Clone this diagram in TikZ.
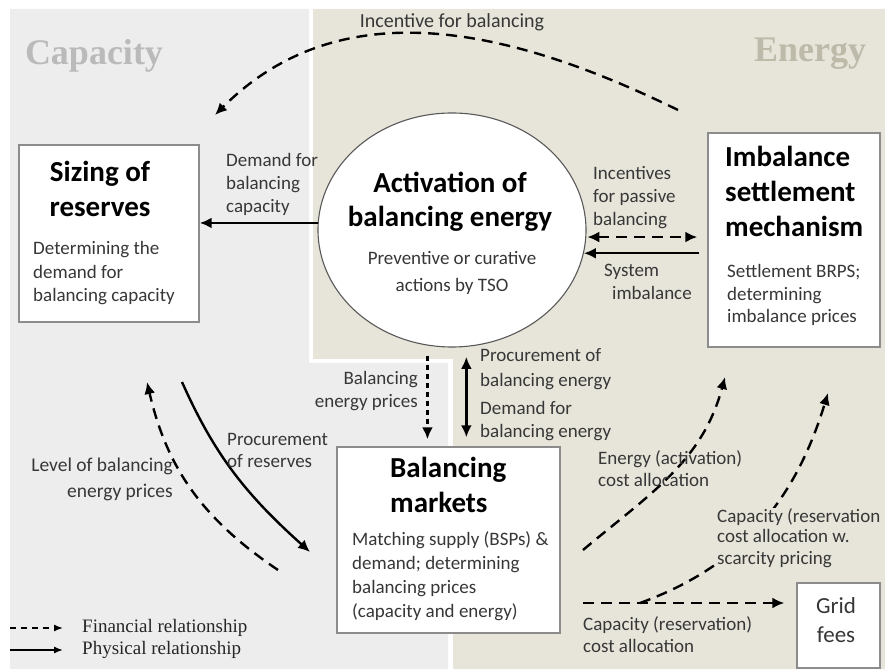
\documentclass[tikz,border=0pt]{standalone}
\usepackage{fontspec}
\setmainfont{Carlito}
\newfontfamily\headfont{Liberation Serif}
\usetikzlibrary{positioning,arrows.meta,shapes.geometric}

\definecolor{capbg}{RGB}{237,237,237}
\definecolor{enbg}{RGB}{231,229,218}
\definecolor{caphead}{RGB}{186,186,186}
\definecolor{enhead}{RGB}{190,186,170}
\definecolor{boxline}{RGB}{140,140,140}
\definecolor{lbltext}{RGB}{55,55,55}

\tikzset{
  block/.style={draw=boxline, line width=1.4pt, fill=white, inner sep=0pt},
  heading/.style={font=\bfseries\fontsize{29}{35}\selectfont, inner sep=0pt},
  detail/.style={font=\fontsize{19}{23.5}\selectfont, text=lbltext, inner sep=0pt},
  lbl/.style={font=\fontsize{19}{23}\selectfont, text=lbltext, inner sep=0pt},
  side/.style={font=\headfont\bfseries\fontsize{36}{40}\selectfont, inner sep=0pt, anchor=base},
  legend/.style={font=\headfont\fontsize{19}{22}\selectfont, text=black!85, inner sep=0pt},
  financial/.style={line width=2.4pt, dash pattern=on 11pt off 7pt},
  physical/.style={line width=2.4pt},
}

\begin{document}
\begin{tikzpicture}[x=1pt,y=1pt,>={Latex[length=12pt,width=11pt]}]
\useasboundingbox (0,0) rectangle (885,669);

% the two halves
\fill[capbg] (10,0) -- (10,660) -- (309,660) -- (309,306) -- (448,306) -- (448,0) -- cycle;
\fill[enbg] (313,660) -- (885,660) -- (885,0) -- (453,0) -- (453,310) -- (313,310) -- cycle;
\node[side, text=caphead] (h_cap) at (94,604) {Capacity};
\node[side, text=enhead] (h_en) at (810,607) {Energy};

% blocks (base anchors sit on the last line)
\node[block, minimum width=180pt, minimum height=177pt] (sizing) at (109,435.5) {};
\node[block, ellipse, draw=black!65, line width=1.1pt, minimum width=268pt, minimum height=234pt] (act) at (452,439) {};
\node[block, minimum width=172pt, minimum height=214pt] (imb) at (794,429) {};
\node[block, minimum width=223pt, minimum height=186pt] (mkt) at (448.5,129) {};
\node[block, minimum width=83pt, minimum height=85pt] (grid) at (838.5,43.5) {};

\node[heading, align=center, anchor=base] (sizing_t) at (100,452) {Sizing of\\reserves};
\node[detail, align=left, anchor=base west] (sizing_d) at (33,367) {Determining the\\demand for\\balancing capacity};
\node[heading, align=center, anchor=base, font=\bfseries\fontsize{29}{34}\selectfont] (act_t) at (450,442) {Activation of\\balancing energy};
\node[detail, align=center, anchor=base, font=\fontsize{19}{27}\selectfont] (act_d) at (452,377) {Preventive or curative\\actions by TSO};
\node[heading, align=left, anchor=base west] (imb_t) at (725,432) {Imbalance\\settlement\\mechanism};
\node[detail, align=left, anchor=base west, font=\fontsize{19}{22.5}\selectfont] (imb_d) at (727,346) {Settlement BRPS;\\determining\\imbalance prices};
\node[heading, align=left, anchor=base west] (mkt_t) at (390,156) {Balancing\\markets};
\node[detail, align=left, anchor=base west, font=\fontsize{19}{24}\selectfont] (mkt_d) at (352,52) {Matching supply (BSPs) \&\\demand; determining\\balancing prices\\(capacity and energy)};
\node[detail, align=center, anchor=base, font=\fontsize{23}{29}\selectfont] (grid_t) at (836,27) {Grid\\fees};

% free ends of the curved links
\coordinate (inc_s) at (678,559);
\coordinate (inc_e) at (215,554);
\coordinate (lvl_s) at (278,99);
\coordinate (lvl_e) at (147,287);
\coordinate (proc_s) at (182,287);
\coordinate (proc_e) at (310,117);
\coordinate (eca_s) at (583,119);
\coordinate (eca_e) at (725,292);
\coordinate (cca_s) at (583,66);
\coordinate (cca_b) at (640,66);
\coordinate (ccs_e) at (828,276);

\draw[financial, ->] (inc_s) to[out=154, in=45] (inc_e);
\draw[physical, ->] (act.177) -- (act.177 -| sizing.east);
\draw[financial, <->, shorten <=1pt, shorten >=10pt] (act.-3) -- (act.-3 -| imb.west);
\draw[physical, ->, shorten <=8pt] (imb.west |- act.-10) -- (act.-10);
\draw[->, line width=3.5pt, dash pattern=on 5pt off 4pt, shorten <=10pt, shorten >=7pt] (act.258) -- (act.258 |- mkt.north);
\draw[physical, <->, shorten <=10pt, shorten >=9pt] (act.277) -- (act.277 |- mkt.north);
\draw[financial, ->] (lvl_s) to[out=146, in=-77] (lvl_e);
\draw[physical, ->] (proc_s) to[out=-66, in=138] (proc_e);
\draw[financial, ->] (eca_s) to[out=40, in=-105] (eca_e);
\draw[financial, ->, shorten >=12pt] (cca_s) -- (cca_s -| grid.west);
\draw[financial, ->] (cca_b) to[out=20, in=-107] (ccs_e);

% link labels
\node[lbl, anchor=base, font=\fontsize{20}{24}\selectfont] (l_inc) at (452,641) {Incentive for balancing};
\node[lbl, align=left, anchor=base west] (l_dem) at (226,456) {Demand for\\balancing\\capacity};
\node[lbl, align=left, anchor=base west] (l_pas) at (593,443) {Incentives\\for passive\\balancing};
\node[lbl, align=left, anchor=base west] (l_sys) at (604,369) {System\\\hspace*{8pt}imbalance};
\node[lbl, align=right, anchor=base east] (l_bep) at (418,261) {Balancing\\energy prices};
\node[lbl, align=left, anchor=base west, font=\fontsize{19}{25}\selectfont] (l_pbe) at (480,282) {Procurement of\\balancing energy};
\node[lbl, align=left, anchor=base west] (l_dbe) at (480,231) {Demand for\\balancing energy};
\node[lbl, align=left, anchor=base west, font=\fontsize{19}{22}\selectfont] (l_res) at (227,201) {Procurement\\of reserves};
\node[lbl, align=right, anchor=base east, font=\fontsize{19.5}{26}\selectfont] (l_lvl) at (173,171) {Level of balancing\\energy prices};
\node[lbl, align=left, anchor=base west, font=\fontsize{19}{22}\selectfont] (l_eca) at (598,182) {Energy (activation)\\cost allocation};
\node[lbl, align=left, anchor=base west, font=\fontsize{19}{21}\selectfont, fill=enbg] (l_ccs) at (717,105) {Capacity (reservation\\cost allocation w.\\scarcity pricing};
\node[lbl, align=left, anchor=base west, font=\fontsize{19}{22}\selectfont] (l_cca) at (583,17) {Capacity (reservation)\\cost allocation};

% legend
\coordinate (lg_f) at (10,41);
\coordinate (lg_p) at (10,19);
\draw[->, line width=1.4pt, dash pattern=on 6pt off 5pt, >={Latex[length=9pt,width=7pt]}] (lg_f) -- ++(53,0) coordinate (lg_f2);
\draw[->, line width=1.4pt, >={Latex[length=9pt,width=7pt]}] (lg_p) -- ++(53,0) coordinate (lg_p2);
\node[legend, right=19pt of lg_f2] (lg_ft) {Financial relationship};
\node[legend, right=19pt of lg_p2] (lg_pt) {Physical relationship};
\end{tikzpicture}
\end{document}
